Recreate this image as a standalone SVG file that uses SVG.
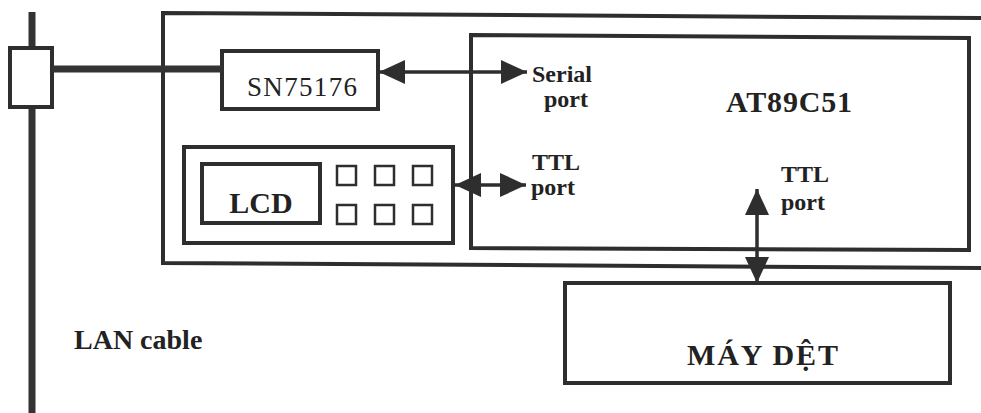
<svg xmlns="http://www.w3.org/2000/svg" width="981" height="413" viewBox="0 0 981 413" font-family="'Liberation Serif', 'Times New Roman', serif">
<style>
.box{fill:none;stroke:#2e2e2e;stroke-width:4}
.sq{fill:none;stroke:#2e2e2e;stroke-width:2.5}
.wire{fill:none;stroke:#2e2e2e;stroke-width:3.5}
.cable{fill:none;stroke:#333;stroke-width:7}
text{font-family:'Liberation Serif','Times New Roman',serif;fill:#222}
.t{font-weight:bold}
</style>
<defs>
<marker id="ah" viewBox="0 0 26 24" refX="26" refY="12" markerWidth="26" markerHeight="24" markerUnits="userSpaceOnUse" orient="auto-start-reverse">
<path d="M0,0 L26,12 L0,24 z" fill="#2e2e2e"/>
</marker>
</defs>
<rect width="981" height="413" fill="#fff"/>
<g id="lan-cable">
<line class="cable" x1="32" y1="12" x2="32" y2="48"/>
<line class="cable" x1="32" y1="107" x2="32" y2="413"/>
<rect class="box" x="10" y="48" width="42" height="59"/>
<text class="t" x="74" y="349" font-size="28">LAN cable</text>
</g>
<g id="outer-board">
<path class="box" d="M985,18 L163,13 L163,263 L985,268"/>
</g>
<g id="sn75176">
<rect class="box" x="222" y="51" width="156" height="58"/>
<text x="247" y="96" font-size="27" textLength="110">SN75176</text>
</g>
<g id="lcd-panel">
<rect class="box" x="184" y="147" width="269" height="96"/>
<rect class="box" x="202" y="164" width="118" height="59" stroke-width="5"/>
<text class="t" x="261" y="213" font-size="30" text-anchor="middle">LCD</text>
<rect class="sq" x="337" y="166" width="19" height="19"/>
<rect class="sq" x="375" y="166" width="19" height="19"/>
<rect class="sq" x="413" y="166" width="19" height="19"/>
<rect class="sq" x="337" y="205" width="19" height="19"/>
<rect class="sq" x="375" y="205" width="19" height="19"/>
<rect class="sq" x="413" y="205" width="19" height="19"/>
</g>
<g id="at89c51">
<path class="box" d="M471,35 L969,38 L969,250 L471,248 Z"/>
<text class="t" x="726" y="112" font-size="30" textLength="126">AT89C51</text>
<text class="t" x="532" y="82" font-size="24">Serial</text>
<text class="t" x="544" y="107" font-size="24">port</text>
<text class="t" x="532" y="170" font-size="24">TTL</text>
<text class="t" x="531" y="195" font-size="24">port</text>
<text class="t" x="781" y="182" font-size="24">TTL</text>
<text class="t" x="781" y="210" font-size="24">port</text>
</g>
<g id="may-det">
<rect class="box" x="565" y="283" width="385" height="100" stroke-width="6"/>
<text class="t" x="687" y="365" font-size="30" textLength="151">MÁY DỆT</text>
</g>
<g id="connectors">
<line class="cable" x1="52" y1="69" x2="222" y2="69"/>
<line class="wire" x1="379" y1="72" x2="527" y2="72" marker-start="url(#ah)" marker-end="url(#ah)"/>
<line class="wire" x1="455" y1="185" x2="526" y2="185" marker-start="url(#ah)" marker-end="url(#ah)"/>
<line class="wire" x1="757" y1="189" x2="757" y2="283" marker-start="url(#ah)" marker-end="url(#ah)"/>
</g>
</svg>
